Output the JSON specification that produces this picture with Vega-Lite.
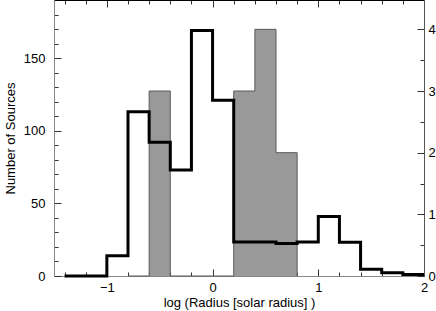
{
  "$schema": "https://vega.github.io/schema/vega-lite/v6.json",
  "width": 370,
  "height": 276,
  "autosize": "none",
  "padding": {"left": 54, "top": 0, "right": 12, "bottom": 35},
  "config": {
    "view": {"stroke": null},
    "font": "Liberation Sans",
    "axis": {
      "grid": false,
      "labelFont": "Liberation Sans",
      "titleFont": "Liberation Sans",
      "labelFontSize": 13,
      "titleFontSize": 13,
      "titleFontWeight": "normal",
      "labelColor": "#000",
      "titleColor": "#000",
      "tickColor": "#333",
      "labelFlush": false,
      "labelOverlap": false
    }
  },
  "layer": [
    {
      "data": {"values": [
        {"x": -0.8, "count": 0},
        {"x": -0.6, "count": 3},
        {"x": -0.4, "count": 0},
        {"x": -0.2, "count": 0},
        {"x": 0.0, "count": 0},
        {"x": 0.2, "count": 3},
        {"x": 0.4, "count": 4},
        {"x": 0.6, "count": 2},
        {"x": 0.8, "count": 0}
      ]},
      "mark": {"type": "area", "interpolate": "step-after", "fill": "#999999", "fillOpacity": 1, "line": {"color": "#5a5a5a", "strokeWidth": 1}},
      "encoding": {
        "x": {
          "field": "x", "type": "quantitative",
          "scale": {"domain": [-1.5, 2], "nice": false, "zero": false},
          "axis": {
            "orient": "bottom",
            "title": "log (Radius [solar radius] )",
            "titlePadding": -1,
            "domainColor": "#888888",
            "values": [-1.4, -1.2, -1, -0.8, -0.6, -0.4, -0.2, 0, 0.2, 0.4, 0.6, 0.8, 1, 1.2, 1.4, 1.6, 1.8, 2],
            "labelExpr": "abs(datum.value - round(datum.value)) < 0.001 ? (round(datum.value) < 0 ? '−' + abs(round(datum.value)) : '' + round(datum.value)) : ''",
            "tickSize": {"condition": {"test": "abs(datum.value - round(datum.value)) < 0.001", "value": -7}, "value": -4},
            "labelPadding": 12
          }
        },
        "y": {
          "field": "count", "type": "quantitative",
          "scale": {"domain": [0, 4.476], "nice": false},
          "axis": {
            "orient": "right",
            "title": null,
            "domainColor": "#555555",
            "values": [0, 0.5, 1, 1.5, 2, 2.5, 3, 3.5, 4],
            "labelExpr": "abs(datum.value - round(datum.value)) < 0.001 ? '' + round(datum.value) : ''",
            "tickSize": {"condition": {"test": "abs(datum.value - round(datum.value)) < 0.001", "value": -7}, "value": -4},
            "labelPadding": 11
          }
        }
      }
    },
    {
      "data": {"values": [
        {"x": -1.4, "n": 0},
        {"x": -1.2, "n": 0},
        {"x": -1.0, "n": 14},
        {"x": -0.8, "n": 113},
        {"x": -0.6, "n": 92},
        {"x": -0.4, "n": 73},
        {"x": -0.2, "n": 169},
        {"x": 0.0, "n": 121},
        {"x": 0.2, "n": 23.4},
        {"x": 0.4, "n": 23.4},
        {"x": 0.6, "n": 22.3},
        {"x": 0.8, "n": 23.4},
        {"x": 1.0, "n": 41},
        {"x": 1.2, "n": 23.3},
        {"x": 1.4, "n": 4.6},
        {"x": 1.6, "n": 2.3},
        {"x": 1.8, "n": 1},
        {"x": 2.0, "n": 1}
      ]},
      "mark": {"type": "line", "interpolate": "step-after", "color": "#000000", "strokeWidth": 3},
      "encoding": {
        "x": {
          "field": "x", "type": "quantitative",
          "axis": {
            "orient": "top",
            "title": null,
            "labels": false,
            "domainColor": "#000000",
            "values": [-1.4, -1.2, -1, -0.8, -0.6, -0.4, -0.2, 0, 0.2, 0.4, 0.6, 0.8, 1, 1.2, 1.4, 1.6, 1.8, 2],
            "tickSize": {"condition": {"test": "abs(datum.value - round(datum.value)) < 0.001", "value": -7}, "value": -4}
          }
        },
        "y": {
          "field": "n", "type": "quantitative",
          "scale": {"domain": [0, 190], "nice": false},
          "axis": {
            "orient": "left",
            "title": "Number of Sources",
            "titlePadding": 6,
            "domainColor": "#888888",
            "values": [0, 10, 20, 30, 40, 50, 60, 70, 80, 90, 100, 110, 120, 130, 140, 150, 160, 170, 180],
            "labelExpr": "datum.value % 50 === 0 ? '' + datum.value : ''",
            "tickSize": {"condition": {"test": "datum.value % 50 === 0", "value": -7}, "value": -4},
            "labelPadding": 16
          }
        }
      }
    }
  ],
  "resolve": {
    "scale": {"y": "independent"},
    "axis": {"x": "independent", "y": "independent"}
  }
}
